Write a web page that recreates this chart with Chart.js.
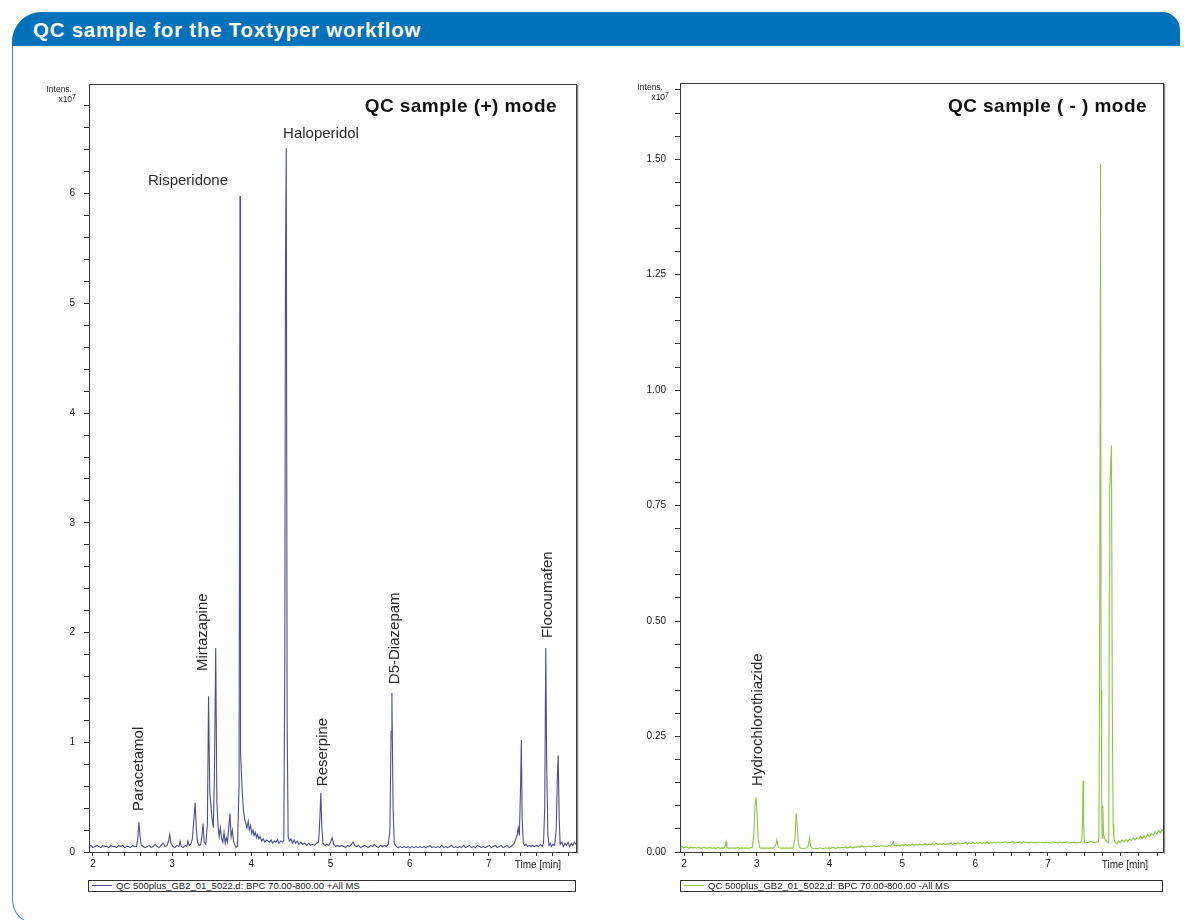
<!DOCTYPE html>
<html><head><meta charset="utf-8">
<script src="https://cdn.jsdelivr.net/npm/chart.js@4/dist/chart.umd.min.js"></script>
<style>
body{margin:0;width:1184px;height:920px;overflow:hidden;background:#fff;font-family:"Liberation Sans",Arial,sans-serif;position:relative}
.frame{position:absolute;left:12px;top:12px;width:1300px;height:912px;border-left:1.5px solid #3f8fcc;border-bottom:1.5px solid #3f8fcc;border-top-left-radius:30px;border-bottom-left-radius:24px;box-sizing:border-box}
.header{position:absolute;left:12px;top:12px;width:1168px;height:34px;background:#0071bb;border-top-left-radius:30px;border-top-right-radius:18px}
.htext{position:absolute;left:33px;top:19px;font-size:20.5px;letter-spacing:0.75px;font-weight:bold;color:#fff;line-height:22px;white-space:nowrap}
canvas{position:absolute}
.ctitle{position:absolute;font-size:19px;letter-spacing:0.45px;font-weight:bold;color:#111;line-height:22px;white-space:nowrap}
.intens{position:absolute;font-size:8.5px;color:#222;line-height:10px;white-space:nowrap;text-align:right}
.intens sup{font-size:7px;vertical-align:3px;line-height:0}
.legend{position:absolute;height:12px;border:1px solid #333;box-sizing:border-box;font-size:9.5px;line-height:10px;color:#222;white-space:nowrap}
.sw{position:absolute;left:3px;top:4px;width:20px;height:1px}
.lt{position:absolute;left:27px;top:0}
</style></head>
<body>
<div class="frame"></div>
<div class="header"></div>
<div class="htext">QC sample for the Toxtyper workflow</div>

<canvas id="cL" width="610" height="820" style="left:0;top:60px;width:610px;height:820px"></canvas>
<canvas id="cR" width="584" height="820" style="left:600px;top:60px;width:584px;height:820px"></canvas>

<div class="ctitle" style="right:627px;top:95px">QC sample (+) mode</div>
<div class="ctitle" style="right:37px;top:95px">QC sample ( - ) mode</div>

<div class="intens" style="right:1112px;top:84px">Intens.</div>
<div class="intens" style="right:1108px;top:94px">x10<sup>7</sup></div>
<div class="intens" style="right:521px;top:82px">Intens.</div>
<div class="intens" style="right:515px;top:92px">x10<sup>7</sup></div>

<div class="legend" style="left:88px;top:880px;width:488px"><span class="sw" style="background:#4b4f94"></span><span class="lt">QC 500plus_GB2_01_5022.d: BPC 70.00-800.00 +All MS</span></div>
<div class="legend" style="left:680px;top:880px;width:483px"><span class="sw" style="background:#8dc63f"></span><span class="lt">QC 500plus_GB2_01_5022.d: BPC 70.00-800.00 -All MS</span></div>

<script>
// ---------- positive mode trace (time in min, intensity x10^7) ----------
const posTimes = [
1.95,1.975,2.00,2.025,2.05,2.075,2.10,2.125,2.15,2.175,
2.20,2.225,2.25,2.275,2.30,2.325,2.35,2.375,2.40,2.425,
2.45,2.475,2.50,2.525,2.55,2.565,2.58,2.595,2.61,2.635,
2.66,2.685,2.71,2.735,2.76,2.785,2.81,2.835,2.86,2.885,
2.91,2.935,2.955,2.97,2.985,3.01,3.035,3.06,3.085,3.10,
3.115,3.14,3.165,3.185,3.20,3.215,3.235,3.255,3.275,3.29,
3.305,3.32,3.34,3.36,3.375,3.39,3.405,3.425,3.445,3.46,
3.475,3.49,3.505,3.52,3.535,3.55,3.565,3.58,3.595,3.61,
3.625,3.64,3.655,3.67,3.685,3.70,3.715,3.73,3.745,3.76,
3.775,3.79,3.805,3.825,3.845,3.857,3.864,3.870,3.885,3.90,
3.915,3.93,3.945,3.96,3.975,3.99,4.005,4.02,4.035,4.05,
4.065,4.08,4.095,4.11,4.13,4.15,4.17,4.19,4.21,4.23,
4.25,4.27,4.29,4.31,4.33,4.35,4.37,4.39,4.41,4.423,
4.431,4.441,4.452,4.465,4.48,4.50,4.52,4.54,4.56,4.58,
4.60,4.625,4.65,4.675,4.70,4.725,4.75,4.775,4.80,4.825,
4.85,4.865,4.878,4.89,4.905,4.93,4.955,4.98,5.00,5.02,
5.04,5.065,5.09,5.115,5.14,5.165,5.19,5.215,5.24,5.265,
5.285,5.305,5.33,5.355,5.38,5.405,5.43,5.455,5.48,5.505,
5.53,5.555,5.58,5.605,5.63,5.655,5.68,5.705,5.73,5.75,
5.765,5.775,5.79,5.805,5.83,5.855,5.88,5.905,5.93,5.955,
5.98,6.005,6.03,6.055,6.08,6.105,6.13,6.155,6.18,6.205,
6.23,6.255,6.28,6.305,6.33,6.355,6.38,6.405,6.43,6.455,
6.48,6.505,6.53,6.555,6.58,6.605,6.63,6.655,6.68,6.705,
6.73,6.755,6.78,6.805,6.83,6.855,6.88,6.905,6.93,6.955,
6.98,7.005,7.03,7.055,7.08,7.105,7.13,7.155,7.18,7.205,
7.23,7.255,7.28,7.30,7.32,7.34,7.355,7.37,7.385,7.40,
7.41,7.42,7.435,7.45,7.47,7.49,7.51,7.53,7.55,7.575,
7.60,7.625,7.65,7.675,7.69,7.705,7.718,7.73,7.745,7.76,
7.775,7.79,7.81,7.83,7.85,7.865,7.875,7.888,7.90,7.92,
7.94,7.96,7.98,8.00,8.02,8.04,8.06,8.08,8.10
];
const posIntensity = [
.05,.06,.04,.05,.06,.05,.04,.06,.05,.05,
.04,.06,.05,.05,.04,.06,.05,.06,.04,.05,
.05,.04,.06,.05,.05,.12,.27,.14,.06,.05,
.04,.05,.06,.04,.05,.07,.05,.04,.06,.08,
.05,.06,.10,.16,.08,.05,.04,.06,.05,.10,
.05,.04,.06,.05,.10,.06,.07,.12,.30,.45,
.22,.09,.06,.07,.14,.26,.09,.07,.25,1.42,
.55,.42,.30,.22,.75,1.86,.45,.24,.14,.22,
.12,.09,.18,.08,.13,.09,.22,.35,.14,.20,
.10,.07,.04,.05,.60,5.98,.90,.79,.55,.38,
.30,.26,.22,.28,.20,.24,.17,.20,.15,.18,
.13,.16,.12,.14,.10,.12,.09,.11,.10,.09,
.11,.08,.10,.09,.11,.08,.10,.09,.10,1.80,
5.35,6.42,1.20,.14,.10,.12,.08,.11,.08,.10,
.07,.09,.07,.08,.06,.08,.06,.07,.06,.08,
.09,.30,.54,.22,.08,.06,.07,.06,.09,.13,
.07,.05,.06,.05,.06,.05,.04,.06,.05,.07,
.09,.06,.05,.06,.04,.05,.06,.05,.04,.06,
.05,.07,.05,.04,.06,.05,.06,.05,.07,.20,
1.10,1.45,.40,.08,.05,.04,.05,.04,.05,.04,
.05,.04,.05,.04,.05,.04,.05,.04,.05,.04,
.05,.06,.04,.05,.04,.05,.04,.06,.04,.05,
.04,.05,.06,.04,.05,.04,.05,.04,.06,.04,
.05,.06,.04,.05,.04,.06,.05,.04,.05,.04,
.05,.06,.04,.05,.06,.04,.05,.06,.04,.05,
.06,.04,.05,.06,.08,.12,.15,.22,.15,.60,
1.02,.30,.08,.06,.07,.05,.06,.05,.06,.05,
.06,.05,.07,.05,.08,.40,1.86,.80,.15,.06,
.08,.05,.07,.06,.20,.70,.88,.30,.07,.09,
.05,.08,.06,.09,.05,.08,.06,.09,.07
];

// ---------- negative mode trace ----------
const negTimes = [
1.945,1.97,1.995,2.02,2.045,2.07,2.095,2.12,2.145,2.17,
2.195,2.22,2.245,2.27,2.295,2.32,2.345,2.37,2.395,2.42,
2.445,2.47,2.495,2.52,2.545,2.565,2.578,2.59,2.615,2.64,
2.665,2.69,2.715,2.74,2.765,2.79,2.815,2.84,2.865,2.89,
2.915,2.94,2.96,2.975,2.99,3.005,3.02,3.04,3.065,3.09,
3.115,3.14,3.165,3.19,3.215,3.24,3.26,3.275,3.29,3.31,
3.335,3.36,3.385,3.41,3.435,3.46,3.485,3.505,3.525,3.54,
3.555,3.57,3.59,3.615,3.64,3.665,3.69,3.71,3.725,3.74,
3.765,3.79,3.815,3.84,3.865,3.89,3.915,3.94,3.965,3.99,
4.015,4.04,4.065,4.09,4.115,4.14,4.165,4.19,4.215,4.24,
4.265,4.29,4.315,4.34,4.365,4.39,4.415,4.44,4.465,4.49,
4.515,4.54,4.565,4.59,4.615,4.64,4.665,4.69,4.715,4.74,
4.765,4.79,4.815,4.84,4.86,4.875,4.89,4.915,4.94,4.965,
4.99,5.015,5.04,5.065,5.09,5.115,5.14,5.165,5.19,5.215,
5.24,5.265,5.29,5.315,5.34,5.365,5.39,5.415,5.44,5.465,
5.49,5.515,5.54,5.565,5.59,5.615,5.64,5.665,5.69,5.715,
5.74,5.765,5.79,5.815,5.84,5.865,5.89,5.915,5.94,5.965,
5.99,6.015,6.04,6.065,6.09,6.115,6.14,6.165,6.19,6.215,
6.24,6.265,6.29,6.315,6.34,6.365,6.39,6.415,6.44,6.465,
6.49,6.515,6.54,6.565,6.59,6.615,6.64,6.665,6.69,6.715,
6.74,6.765,6.79,6.815,6.84,6.865,6.89,6.915,6.94,6.965,
6.99,7.015,7.04,7.065,7.09,7.115,7.14,7.165,7.19,7.215,
7.24,7.265,7.29,7.315,7.34,7.365,7.39,7.415,7.44,7.465,
7.475,7.482,7.49,7.50,7.51,7.535,7.56,7.585,7.61,7.635,
7.66,7.685,7.70,7.712,7.722,7.730,7.738,7.745,7.752,7.762,
7.775,7.795,7.81,7.825,7.835,7.843,7.848,7.872,7.884,7.895,
7.905,7.92,7.945,7.97,7.995,8.02,8.045,8.07,8.095,8.12,
8.145,8.17,8.195,8.22,8.245,8.27,8.295,8.32,8.345,8.37,
8.395,8.42,8.445,8.47,8.495,8.52,8.545,8.565,8.58
];
const negIntensity = [
.010,.012,.009,.011,.010,.008,.011,.009,.010,.008,
.010,.009,.008,.010,.009,.008,.010,.009,.008,.009,
.008,.010,.008,.009,.008,.012,.022,.010,.008,.009,
.008,.009,.008,.010,.008,.009,.008,.009,.008,.008,
.009,.010,.040,.100,.118,.080,.025,.010,.008,.009,
.008,.009,.008,.009,.008,.010,.015,.026,.013,.009,
.008,.009,.008,.009,.008,.009,.008,.012,.030,.083,
.060,.020,.009,.008,.007,.008,.009,.015,.030,.012,
.008,.007,.008,.007,.009,.008,.007,.009,.008,.009,
.008,.010,.009,.008,.010,.009,.010,.009,.011,.009,
.010,.011,.009,.011,.010,.012,.010,.014,.011,.012,
.011,.013,.011,.012,.014,.011,.013,.012,.014,.012,
.013,.012,.014,.013,.018,.022,.014,.013,.015,.013,
.016,.014,.017,.014,.016,.015,.017,.014,.016,.015,
.017,.015,.016,.018,.015,.017,.016,.018,.015,.019,
.016,.018,.016,.019,.016,.018,.017,.020,.016,.019,
.017,.020,.017,.019,.018,.021,.017,.020,.018,.021,
.018,.020,.019,.021,.018,.020,.019,.022,.018,.021,
.019,.021,.019,.022,.019,.021,.020,.022,.019,.021,
.020,.023,.019,.021,.020,.022,.019,.023,.020,.021,
.019,.022,.020,.021,.019,.022,.020,.021,.019,.022,
.020,.021,.019,.022,.020,.021,.019,.022,.020,.021,
.020,.022,.019,.021,.020,.022,.019,.021,.020,.025,
.070,.154,.060,.022,.019,.021,.020,.024,.021,.020,
.022,.020,.030,.600,1.490,.350,.120,.030,.100,.040,
.030,.025,.022,.020,.030,.600,.780,.880,.300,.060,
.030,.022,.018,.024,.020,.026,.022,.027,.023,.028,
.025,.030,.026,.031,.028,.034,.029,.035,.031,.038,
.033,.040,.036,.044,.039,.047,.041,.048,.045
];

// ---------- tick labels ----------
const posXLabels = [2, 3, 4, 5, 6, 7];
const posYLabels = [0, 1, 2, 3, 4, 5, 6];
const negXLabels = [2, 3, 4, 5, 6, 7];
const negYLabels = [0, 0.25, 0.5, 0.75, 1.0, 1.25, 1.5];

// ---------- compound annotations ----------
const posNames    = ['Paracetamol','Mirtazapine','Risperidone','Haloperidol','Reserpine','D5-Diazepam','Flocoumafen'];
const posNameTime = [2.58, 3.39, 3.20, 4.88, 4.90, 5.81, 7.74];
const posNameInt  = [0.374, 1.65, 6.12, 6.55, 0.60, 1.53, 1.95];
const posNameVert = [true, true, false, false, true, true, true];
const negNames    = ['Hydrochlorothiazide'];
const negNameTime = [3.016];
const negNameInt  = [0.143];
const negNameVert = [true];

const FONT = '"Liberation Sans", Arial, sans-serif';

function tickList(min, max, step){
  const out = [];
  const a = Math.ceil(min/step - 1e-9), b = Math.floor(max/step - 1e-9);
  for (let i=a; i<=b; i++) out.push({value: +(i*step).toFixed(6)});
  return out;
}
function labelFrom(list, fmt){
  return (v) => { const m = list.find(l => Math.abs(l - v) < 1e-6); return m === undefined ? '' : fmt(m); };
}

const decorPlugin = {
  id: 'decor',
  afterDatasetsDraw(chart, args, opts){
    const {ctx, chartArea: a, scales} = chart;
    ctx.save();
    ctx.fillStyle = '#2a2a2a';
    ctx.font = '15px ' + FONT;
    opts.names.forEach((n, i) => {
      const px = scales.x.getPixelForValue(opts.times[i]);
      const py = scales.y.getPixelForValue(opts.ints[i]);
      if (opts.vert[i]) {
        ctx.save(); ctx.translate(px, py); ctx.rotate(-Math.PI/2);
        ctx.textAlign = 'left'; ctx.textBaseline = 'middle';
        ctx.fillText(n, 0, 0); ctx.restore();
      } else {
        ctx.textAlign = 'center'; ctx.textBaseline = 'middle';
        ctx.fillText(n, px, py);
      }
    });
    ctx.strokeStyle = '#8a8a8a'; ctx.lineWidth = 1.5;
    ctx.beginPath();
    ctx.moveTo(Math.round(a.right)+1.5, Math.round(a.top)+1);
    ctx.lineTo(Math.round(a.right)+1.5, Math.round(a.bottom)+1.5);
    ctx.stroke();
    ctx.strokeStyle = '#3a3a3a'; ctx.lineWidth = 1;
    ctx.strokeRect(Math.round(a.left)+0.5, Math.round(a.top)+0.5, Math.round(a.right-a.left), Math.round(a.bottom-a.top));
    ctx.fillStyle = '#222'; ctx.font = '10px ' + FONT;
    ctx.textAlign = 'right'; ctx.textBaseline = 'middle';
    ctx.fillText('Time [min]', a.right - 15, a.bottom + 13);
    ctx.restore();
  }
};

function makeChart(id, cfg){
  const data = cfg.times.map((t, i) => ({x: t, y: cfg.ints[i]}));
  return new Chart(document.getElementById(id), {
    type: 'line',
    data: { datasets: [{ data, borderColor: cfg.color, borderWidth: 1.1, pointRadius: 0, tension: 0, fill: false }] },
    plugins: [decorPlugin],
    options: {
      responsive: false, animation: false, events: [],
      layout: { padding: cfg.padding },
      plugins: { legend: {display:false}, tooltip: {enabled:false},
        decor: { names: cfg.names, times: cfg.nameTimes, ints: cfg.nameInts, vert: cfg.nameVert } },
      scales: {
        x: { type: 'linear', min: cfg.xmin, max: cfg.xmax,
          afterFit(s){ s.height = 28; },
          afterBuildTicks(s){ s.ticks = tickList(cfg.xmin, cfg.xmax + 1e-6, cfg.xstep); },
          ticks: { autoSkip:false, maxRotation:0, padding:2, color:'#222', font:{family:FONT, size:10},
                   callback: labelFrom(cfg.xLabels, v => String(v)) },
          grid: { drawOnChartArea:false, drawTicks:true, tickLength:4, color:'#333', lineWidth:1 },
          border: { display:false } },
        y: { type: 'linear', min: 0, max: cfg.ymax,
          afterFit(s){ s.width = cfg.yWidth; },
          afterBuildTicks(s){ s.ticks = tickList(0, cfg.ymax, cfg.ystep); },
          ticks: { autoSkip:false, padding:9, color:'#222', font:{family:FONT, size:10},
                   callback: labelFrom(cfg.yLabels, cfg.yFmt) },
          grid: { drawOnChartArea:false, drawTicks:true, tickLength:5, color:'#333', lineWidth:1 },
          border: { display:false } }
      }
    }
  });
}

makeChart('cL', {
  times: posTimes, ints: posIntensity, color: '#4b4f94',
  names: posNames, nameTimes: posNameTime, nameInts: posNameInt, nameVert: posNameVert,
  xmin: 1.95, xmax: 8.1, xstep: 0.2, xLabels: posXLabels,
  ymax: 7.0, ystep: 0.2, yLabels: posYLabels, yFmt: v => String(v),
  yWidth: 89, padding: {left:0, top:24, right:34, bottom:0}
});
makeChart('cR', {
  times: negTimes, ints: negIntensity, color: '#8dc63f',
  names: negNames, nameTimes: negNameTime, nameInts: negNameInt, nameVert: negNameVert,
  xmin: 1.945, xmax: 8.58, xstep: 0.25, xLabels: negXLabels,
  ymax: 1.665, ystep: 0.05, yLabels: negYLabels, yFmt: v => v.toFixed(2),
  yWidth: 80, padding: {left:0, top:23, right:21, bottom:0}
});
</script>
</body></html>
